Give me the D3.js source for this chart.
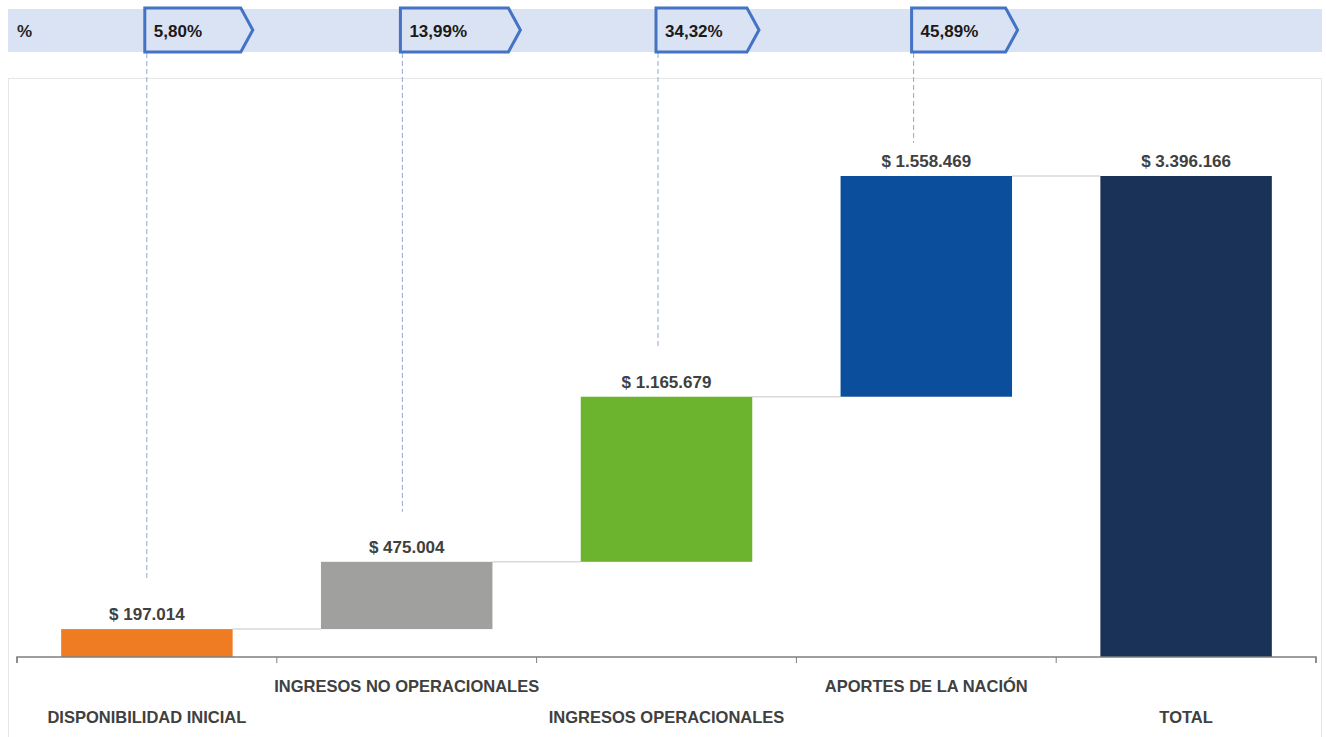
<!DOCTYPE html>
<html>
<head>
<meta charset="utf-8">
<script src="https://cdn.jsdelivr.net/npm/d3@7"></script>
<style>
  body { margin: 0; background: #fff; }
  text { font-family: "Liberation Sans Narrow", "Arial Narrow", sans-serif; font-weight: bold; }
</style>
</head>
<body>
<div id="chart"></div>
<script>
/* data */
var categories = ["DISPONIBILIDAD INICIAL", "INGRESOS NO OPERACIONALES", "INGRESOS OPERACIONALES", "APORTES DE LA NACIÓN", "TOTAL"];
var values = [197014, 475004, 1165679, 1558469, 3396166];
var isTotal = [false, false, false, false, true];
var valueLabels = ["$ 197.014", "$ 475.004", "$ 1.165.679", "$ 1.558.469", "$ 3.396.166"];
var pctLabels = ["5,80%", "13,99%", "34,32%", "45,89%"];
var barColors = ["#ef7b22", "#a0a09f", "#6cb42e", "#0b4e9c", "#1b3258"];

var W = 1326, H = 737;
var svg = d3.select("#chart").append("svg").attr("width", W).attr("height", H);

// top percentage band
svg.append("rect").attr("x", 8).attr("y", 9).attr("width", 1314).attr("height", 43).attr("fill", "#dae3f3");
svg.append("text").attr("x", 17).attr("y", 37).attr("font-size", 17).attr("fill", "#262626").text("%");

// chart frame
svg.append("rect").attr("x", 8.5).attr("y", 78.5).attr("width", 1313).attr("height", 670)
  .attr("fill", "#fff").attr("stroke", "#e6e6e6");

// scales
var x = d3.scaleBand().domain(categories).range([17, 1316]).paddingInner(0).paddingOuter(0);
var xPct = d3.scaleBand().domain(categories).range([19, 1297]);
var y = d3.scaleLinear().domain([0, 3396166]).range([657, 176]);
var barW = x.bandwidth() * 0.66;

// waterfall extents
var acc = 0;
var steps = values.map(function(v, i) {
  var d = { name: categories[i], value: v, i: i };
  if (isTotal[i]) { d.start = 0; d.end = v; acc = v; }
  else { d.start = acc; d.end = acc + v; acc += v; }
  return d;
});

var g = svg.append("g");

// connectors
g.selectAll("line.conn").data(steps.slice(0, -1)).enter().append("line")
  .attr("class", "conn")
  .attr("x1", function(d) { return x(d.name) + x.bandwidth() / 2 + barW / 2; })
  .attr("x2", function(d) { return x(categories[d.i + 1]) + x.bandwidth() / 2 - barW / 2; })
  .attr("y1", function(d) { return y(d.end); })
  .attr("y2", function(d) { return y(d.end); })
  .attr("stroke", "#d9d9d9").attr("stroke-width", 1.5);

// bars
g.selectAll("rect.bar").data(steps).enter().append("rect")
  .attr("class", "bar")
  .attr("x", function(d) { return x(d.name) + x.bandwidth() / 2 - barW / 2; })
  .attr("y", function(d) { return y(d.end); })
  .attr("width", barW)
  .attr("height", function(d) { return y(d.start) - y(d.end); })
  .attr("fill", function(d, i) { return barColors[i]; });

// value labels
g.selectAll("text.val").data(steps).enter().append("text")
  .attr("class", "val")
  .attr("x", function(d) { return x(d.name) + x.bandwidth() / 2; })
  .attr("y", function(d) { return y(d.end) - 9; })
  .attr("text-anchor", "middle").attr("font-size", 17).attr("fill", "#404040")
  .text(function(d, i) { return valueLabels[i]; });

// axis
var axis = svg.append("g").attr("transform", "translate(0,657)")
  .call(d3.axisBottom(x).tickSize(6).tickFormat(""));
axis.select(".domain").attr("stroke", "#7f7f7f").attr("stroke-width", 1.5).attr("d", "M17,6V0H1316V6");
axis.selectAll(".tick line").remove();
var edges = d3.range(categories.length + 1).map(function(i) { return 17 + i * x.step(); });
axis.selectAll("line.edge").data(edges).enter().append("line")
  .attr("x1", function(d) { return d; }).attr("x2", function(d) { return d; })
  .attr("y1", 0).attr("y2", 6).attr("stroke", "#7f7f7f");

// category labels (staggered)
svg.selectAll("text.cat").data(categories).enter().append("text")
  .attr("class", "cat")
  .attr("x", function(d) { return x(d) + x.bandwidth() / 2; })
  .attr("y", function(d, i) { return i % 2 === 0 ? 723 : 692; })
  .attr("text-anchor", "middle").attr("font-size", 16.5).attr("fill", "#404040")
  .text(function(d) { return d; });

// percentage callouts + dashed leaders
var callouts = steps.slice(0, 4);
var cx = function(d) { return xPct(d.name) + xPct.bandwidth() / 2; };
svg.selectAll("line.lead").data(callouts).enter().append("line")
  .attr("x1", cx).attr("x2", cx)
  .attr("y1", 53)
  .attr("y2", function(d) { return Math.max(y(d.end) - 50, 143); })
  .attr("stroke", "#8eaadb").attr("stroke-width", 1).attr("stroke-dasharray", "5,3");

var tagW = [108, 120, 103, 106];
var tags = svg.selectAll("g.tag").data(callouts).enter().append("g")
  .attr("class", "tag")
  .attr("transform", function(d) { return "translate(" + (cx(d) - 2) + ",8)"; });
tags.append("path")
  .attr("d", function(d, i) {
    var w = tagW[i], h = 44;
    return "M0,0H" + (w - 12) + "L" + w + "," + (h / 2) + "L" + (w - 12) + "," + h + "H0Z";
  })
  .attr("fill", "#dae3f3").attr("stroke", "#4472c4").attr("stroke-width", 3);
tags.append("text")
  .attr("x", 9).attr("y", 29).attr("font-size", 17).attr("fill", "#1a1a1a")
  .text(function(d, i) { return pctLabels[i]; });
</script>
</body>
</html>
